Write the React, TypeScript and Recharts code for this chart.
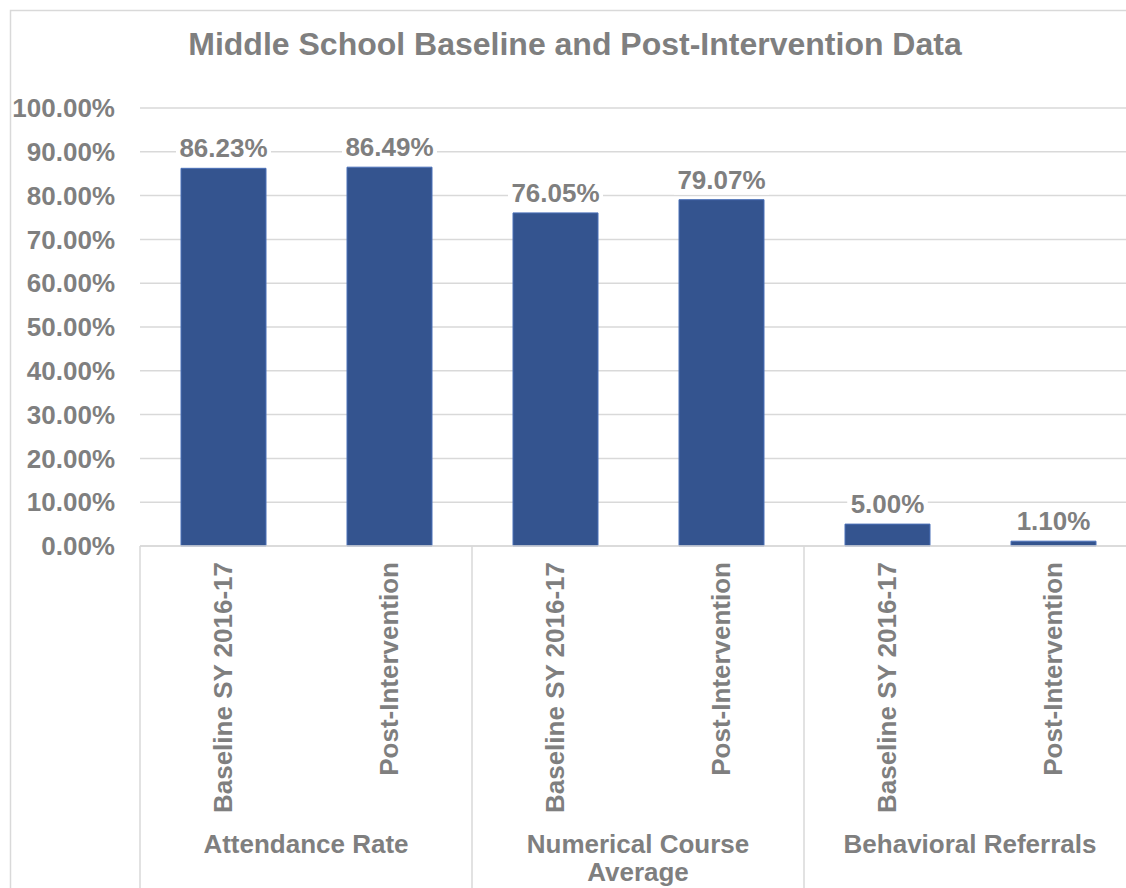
import React from 'react';
import { BarChart, Bar, XAxis, YAxis, CartesianGrid, LabelList } from 'recharts';

const title = 'Middle School Baseline and Post-Intervention Data';
const categories = [
  'Baseline SY 2016-17',
  'Post-Intervention',
  'Baseline SY 2016-17',
  'Post-Intervention',
  'Baseline SY 2016-17',
  'Post-Intervention',
];
const groups = ['Attendance Rate', 'Numerical Course Average', 'Behavioral Referrals'];
const groupIndex = [0, 0, 1, 1, 2, 2];
const values = [86.23, 86.49, 76.05, 79.07, 5.0, 1.1];
const yTicks = [0, 10, 20, 30, 40, 50, 60, 70, 80, 90, 100];

const data = categories.map((c, i) => ({
  key: String(i),
  label: c,
  group: groups[groupIndex[i]],
  value: values[i],
}));

const FONT = '"Liberation Sans", Arial, Helvetica, sans-serif';
const GRAY = '#7F7F7F';
const LINE = '#D9D9D9';

const CHART_W = 1146;
const CHART_H = 888;
const MARGIN = { top: 108, right: 10, bottom: 0, left: 0 };
const Y_W = 140;
const X_H = 342;
const PLOT_W = CHART_W - MARGIN.left - MARGIN.right - Y_W;
const BAND = PLOT_W / data.length;

const fmt = (v: number) => `${v.toFixed(2)}%`;

const splitGroup = (s: string): string[] => {
  if (s.length <= 20) return [s];
  const idx = s.lastIndexOf(' ');
  return [s.slice(0, idx), s.slice(idx + 1)];
};

const CategoryTick = (props: any) => {
  const { x, y, payload, index } = props;
  const d = data[index] ?? data.find((r) => r.key === payload.value);
  const i = data.indexOf(d);
  const ty = y + 16;
  const els: React.ReactNode[] = [];
  els.push(
    <text
      key="t"
      x={x}
      y={ty}
      transform={`rotate(-90, ${x}, ${ty})`}
      textAnchor="end"
      dominantBaseline="central"
      fill={GRAY}
      fontSize={26}
      fontWeight="bold"
      fontFamily={FONT}
    >
      {d.label}
    </text>
  );
  const first = i === 0 || groupIndex[i - 1] !== groupIndex[i];
  if (first) {
    els.push(
      <line key="l" x1={x - BAND / 2} x2={x - BAND / 2} y1={y} y2={y + 400} stroke={LINE} strokeWidth={1.5} />
    );
    const lines = splitGroup(d.group);
    els.push(
      <text
        key="g"
        x={x + BAND / 2}
        y={y + 307}
        textAnchor="middle"
        fill={GRAY}
        fontSize={26}
        fontWeight="bold"
        fontFamily={FONT}
      >
        {lines.map((ln, k) => (
          <tspan key={k} x={x + BAND / 2} dy={k === 0 ? 0 : 28}>
            {ln}
          </tspan>
        ))}
      </text>
    );
  }
  if (i === data.length - 1) {
    els.push(
      <line key="r" x1={x + BAND / 2} x2={x + BAND / 2} y1={y} y2={y + 400} stroke={LINE} strokeWidth={1.5} />
    );
  }
  return <g>{els}</g>;
};

const ValueLabel = (props: any) => {
  const { x, y, width, value } = props;
  const cx = x + width / 2;
  const base = y - 11;
  const txt = fmt(Number(value));
  const w = txt.length * 14.5 + 8;
  return (
    <g>
      <rect x={cx - w / 2} y={base - 24} width={w} height={30} fill="#FFFFFF" />
      <text
        x={cx}
        y={base}
        textAnchor="middle"
        fill={GRAY}
        fontSize={26}
        fontWeight="bold"
        fontFamily={FONT}
      >
        {txt}
      </text>
    </g>
  );
};

export default function App() {
  return (
    <div
      style={{
        position: 'fixed',
        left: 0,
        top: 0,
        width: 1126,
        height: 888,
        overflow: 'hidden',
        background: '#FFFFFF',
      }}
    >
      <div style={{ position: 'absolute', left: 0, top: 0 }}>
        <BarChart width={CHART_W} height={CHART_H} data={data} margin={MARGIN} barSize={85}>
          <CartesianGrid vertical={false} stroke={LINE} strokeWidth={1.5} />
          <XAxis
            dataKey="key"
            height={X_H}
            tickLine={false}
            tickSize={0}
            tickMargin={0}
            axisLine={{ stroke: LINE, strokeWidth: 1.5 }}
            interval={0}
            tick={<CategoryTick />}
          />
          <YAxis
            width={Y_W}
            domain={[0, 100]}
            ticks={yTicks}
            interval={0}
            axisLine={false}
            tickLine={false}
            tickSize={0}
            tickMargin={25}
            tickFormatter={fmt}
            tick={{ fill: GRAY, fontSize: 26, fontWeight: 'bold', fontFamily: FONT }}
          />
          <Bar dataKey="value" fill="#34548F" stroke="#4A70B8" strokeWidth={1} isAnimationActive={false}>
            <LabelList dataKey="value" content={<ValueLabel />} />
          </Bar>
        </BarChart>
      </div>
      <svg
        width={1126}
        height={888}
        style={{ position: 'absolute', left: 0, top: 0, pointerEvents: 'none' }}
      >
        <rect x={10.5} y={10.5} width={1300} height={1000} fill="none" stroke={LINE} strokeWidth={1.5} />
        <text
          x={575}
          y={55}
          textAnchor="middle"
          fill={GRAY}
          fontSize={32}
          fontWeight="bold"
          fontFamily={FONT}
        >
          {title}
        </text>
      </svg>
    </div>
  );
}
